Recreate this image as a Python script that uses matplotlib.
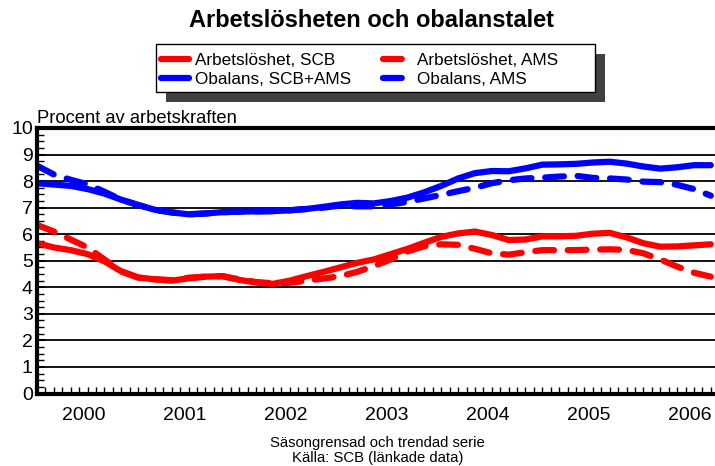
import matplotlib
import numpy as np

matplotlib.use("Agg")
import matplotlib.pyplot as plt  # noqa: E402
from matplotlib.patches import Rectangle  # noqa: E402
from matplotlib.ticker import MultipleLocator, FixedLocator  # noqa: E402

plt.rcParams["font.family"] = ["Liberation Sans", "DejaVu Sans"]

# month index, 0 = Jan 2000, every second month
months = list(range(0, 81, 2))
years = ["2000", "2001", "2002", "2003", "2004", "2005", "2006"]

arb_scb = [5.66, 5.50, 5.40, 5.25, 4.98, 4.60, 4.37, 4.30, 4.25, 4.34,
           4.40, 4.42, 4.28, 4.18, 4.13, 4.25, 4.42, 4.58, 4.75, 4.92,
           5.05, 5.25, 5.45, 5.68, 5.90, 6.03, 6.10, 5.97, 5.78, 5.80,
           5.92, 5.92, 5.94, 6.02, 6.05, 5.88, 5.66, 5.53, 5.54, 5.58, 5.62]
arb_ams = [6.35, 6.10, 5.80, 5.50, 5.05, 4.60, 4.37, 4.30, 4.27, 4.36,
           4.40, 4.42, 4.30, 4.20, 4.15, 4.17, 4.25, 4.33, 4.42, 4.58,
           4.80, 5.05, 5.35, 5.55, 5.62, 5.60, 5.45, 5.28, 5.23, 5.32,
           5.40, 5.40, 5.40, 5.42, 5.43, 5.41, 5.28, 5.05, 4.78, 4.55, 4.40]
obal_scb_ams = [7.92, 7.87, 7.82, 7.70, 7.53, 7.30, 7.10, 6.92, 6.82, 6.75,
                6.78, 6.83, 6.85, 6.86, 6.87, 6.90, 6.95, 7.03, 7.12, 7.18,
                7.16, 7.25, 7.38, 7.58, 7.82, 8.10, 8.30, 8.38, 8.37, 8.48,
                8.62, 8.63, 8.65, 8.70, 8.73, 8.66, 8.55, 8.47, 8.52, 8.60, 8.60]
obal_ams = [8.58, 8.25, 8.05, 7.88, 7.60, 7.30, 7.10, 6.92, 6.82, 6.75,
            6.78, 6.83, 6.85, 6.86, 6.87, 6.90, 6.95, 7.00, 7.08, 7.05,
            7.05, 7.12, 7.22, 7.35, 7.48, 7.62, 7.75, 7.92, 8.03, 8.10,
            8.13, 8.17, 8.20, 8.12, 8.10, 8.06, 7.98, 7.96, 7.86, 7.70, 7.45]

fig = plt.figure(figsize=(7.15, 4.66), dpi=100)
ax = fig.add_axes([37 / 715, 1 - 393.5 / 466, 1 - 37 / 715, (393.5 - 128) / 466])

lw = 4.5
dash = (3.0, 2.2)
l1, = ax.plot(months, arb_scb, color="#ff0000", lw=lw, solid_capstyle="round",
              label="Arbetslöshet, SCB")
l3, = ax.plot(months, obal_scb_ams, color="#0000ff", lw=lw, solid_capstyle="round",
              label="Obalans, SCB+AMS")
l2, = ax.plot(months, arb_ams, color="#ff0000", lw=lw, dashes=dash,
              dash_capstyle="round", label="Arbetslöshet, AMS")
l4, = ax.plot(months, obal_ams, color="#0000ff", lw=lw, dashes=dash,
              dash_capstyle="round", label="Obalans, AMS")

ax.set_xlim(0, 80.5)
ax.set_ylim(0, 10)
ax.yaxis.set_major_locator(MultipleLocator(1))
ax.yaxis.set_minor_locator(MultipleLocator(0.25))
ax.xaxis.set_major_locator(FixedLocator([5.5 + 12 * i for i in range(len(years))]))
ax.set_xticklabels(years)
ax.xaxis.set_minor_locator(MultipleLocator(1))
ax.tick_params(axis="x", which="major", length=0, pad=10, labelsize=14)
ax.tick_params(axis="x", which="minor", direction="in", length=5, width=1)
ax.tick_params(axis="y", which="major", direction="in", length=6, width=1.5,
               pad=3, labelsize=14)
ax.tick_params(axis="y", which="minor", direction="in", length=5, width=1)
ax.grid(axis="y", color="black", lw=1.3)
ax.set_axisbelow(True)
for s in ("left", "bottom", "top"):
    ax.spines[s].set_linewidth(3)
ax.spines["right"].set_visible(False)

ax.text(0, 1.004, "Procent av arbetskraften", transform=ax.transAxes,
        fontsize=13.2, ha="left", va="bottom")

fig.text(0.52, 0.957, "Arbetslösheten och obalanstalet", ha="center", va="center",
         fontsize=17, fontweight="bold")

# legend box with dark drop shadow, as in the source chart
bx0, bx1, by0, by1 = 156 / 715, 595 / 715, 1 - 92 / 466, 1 - 44 / 466
fig.patches.append(Rectangle((bx0 + 10 / 715, by0 - 10 / 466), bx1 - bx0, by1 - by0,
                             transform=fig.transFigure, facecolor="#404040",
                             edgecolor="none", zorder=3))
fig.patches.append(Rectangle((bx0, by0), bx1 - bx0, by1 - by0,
                             transform=fig.transFigure, facecolor="white",
                             edgecolor="black", lw=1, zorder=4))

leg = fig.legend(handles=[l1, l3, l2, l4], ncol=2, loc="upper left",
                 bbox_to_anchor=(161 / 715, 1 - 53 / 466), fontsize=12.3,
                 frameon=False, borderpad=0, labelspacing=0.25, handlelength=1.65,
                 handletextpad=0.35, columnspacing=1.85, borderaxespad=0)
leg.set_zorder(5)

fig.text(0.528, 1 - 443 / 466, "Säsongrensad och trendad serie", ha="center",
         va="center", fontsize=10.7)
fig.text(0.528, 1 - 458 / 466, "Källa: SCB (länkade data)", ha="center",
         va="center", fontsize=10.7)

fig.savefig("out.png", dpi=100)
